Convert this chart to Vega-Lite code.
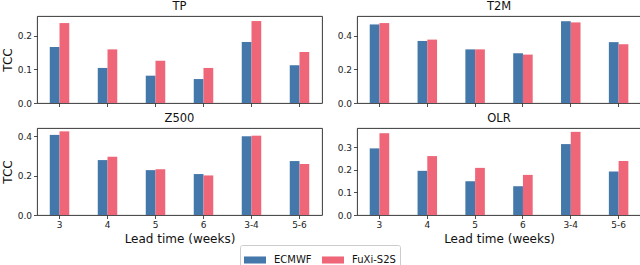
{
  "$schema": "https://vega.github.io/schema/vega-lite/v6.json",
  "padding": {"left": 0, "top": 0, "right": 0, "bottom": 0},
  "background": "white",
  "config": {
    "font": "DejaVu Sans",
    "view": {"stroke": "#222222", "strokeWidth": 0.9},
    "title": {"fontSize": 11.5, "fontWeight": "normal", "color": "#111111", "offset": 4, "font": "DejaVu Sans"},
    "axis": {
      "grid": false, "domain": false,
      "tickColor": "#222222", "tickSize": 3.5, "tickWidth": 0.8,
      "labelFont": "DejaVu Sans", "labelFontSize": 9, "labelColor": "#222222", "labelPadding": 2,
      "titleFont": "DejaVu Sans", "titleFontSize": 12, "titleFontWeight": "normal", "titleColor": "#111111"
    },
    "legend": {
      "orient": "none", "legendX": 203, "legendY": 229, "direction": "horizontal",
      "title": null, "strokeColor": "#cccccc", "fillColor": "white", "cornerRadius": 2,
      "padding": 4, "columnPadding": 10, "labelFont": "DejaVu Sans", "labelFontSize": 10, "labelColor": "#111111",
      "symbolType": "M-1,-0.32H1V0.32H-1Z", "symbolSize": 484, "symbolStrokeWidth": 0, "labelOffset": 8
    }
  },
  "data": {"values": [
    {"var": "TP", "lead": "3", "model": "ECMWF", "tcc": 0.166},
    {"var": "TP", "lead": "3", "model": "FuXi-S2S", "tcc": 0.237},
    {"var": "TP", "lead": "4", "model": "ECMWF", "tcc": 0.104},
    {"var": "TP", "lead": "4", "model": "FuXi-S2S", "tcc": 0.159},
    {"var": "TP", "lead": "5", "model": "ECMWF", "tcc": 0.081},
    {"var": "TP", "lead": "5", "model": "FuXi-S2S", "tcc": 0.125},
    {"var": "TP", "lead": "6", "model": "ECMWF", "tcc": 0.071},
    {"var": "TP", "lead": "6", "model": "FuXi-S2S", "tcc": 0.104},
    {"var": "TP", "lead": "3-4", "model": "ECMWF", "tcc": 0.181},
    {"var": "TP", "lead": "3-4", "model": "FuXi-S2S", "tcc": 0.243},
    {"var": "TP", "lead": "5-6", "model": "ECMWF", "tcc": 0.112},
    {"var": "TP", "lead": "5-6", "model": "FuXi-S2S", "tcc": 0.151},
    {"var": "T2M", "lead": "3", "model": "ECMWF", "tcc": 0.466},
    {"var": "T2M", "lead": "3", "model": "FuXi-S2S", "tcc": 0.474},
    {"var": "T2M", "lead": "4", "model": "ECMWF", "tcc": 0.368},
    {"var": "T2M", "lead": "4", "model": "FuXi-S2S", "tcc": 0.376},
    {"var": "T2M", "lead": "5", "model": "ECMWF", "tcc": 0.318},
    {"var": "T2M", "lead": "5", "model": "FuXi-S2S", "tcc": 0.318},
    {"var": "T2M", "lead": "6", "model": "ECMWF", "tcc": 0.295},
    {"var": "T2M", "lead": "6", "model": "FuXi-S2S", "tcc": 0.287},
    {"var": "T2M", "lead": "3-4", "model": "ECMWF", "tcc": 0.485},
    {"var": "T2M", "lead": "3-4", "model": "FuXi-S2S", "tcc": 0.478},
    {"var": "T2M", "lead": "5-6", "model": "ECMWF", "tcc": 0.361},
    {"var": "T2M", "lead": "5-6", "model": "FuXi-S2S", "tcc": 0.349},
    {"var": "Z500", "lead": "3", "model": "ECMWF", "tcc": 0.407},
    {"var": "Z500", "lead": "3", "model": "FuXi-S2S", "tcc": 0.425},
    {"var": "Z500", "lead": "4", "model": "ECMWF", "tcc": 0.279},
    {"var": "Z500", "lead": "4", "model": "FuXi-S2S", "tcc": 0.296},
    {"var": "Z500", "lead": "5", "model": "ECMWF", "tcc": 0.228},
    {"var": "Z500", "lead": "5", "model": "FuXi-S2S", "tcc": 0.233},
    {"var": "Z500", "lead": "6", "model": "ECMWF", "tcc": 0.208},
    {"var": "Z500", "lead": "6", "model": "FuXi-S2S", "tcc": 0.201},
    {"var": "Z500", "lead": "3-4", "model": "ECMWF", "tcc": 0.400},
    {"var": "Z500", "lead": "3-4", "model": "FuXi-S2S", "tcc": 0.403},
    {"var": "Z500", "lead": "5-6", "model": "ECMWF", "tcc": 0.274},
    {"var": "Z500", "lead": "5-6", "model": "FuXi-S2S", "tcc": 0.259},
    {"var": "OLR", "lead": "3", "model": "ECMWF", "tcc": 0.294},
    {"var": "OLR", "lead": "3", "model": "FuXi-S2S", "tcc": 0.361},
    {"var": "OLR", "lead": "4", "model": "ECMWF", "tcc": 0.195},
    {"var": "OLR", "lead": "4", "model": "FuXi-S2S", "tcc": 0.260},
    {"var": "OLR", "lead": "5", "model": "ECMWF", "tcc": 0.149},
    {"var": "OLR", "lead": "5", "model": "FuXi-S2S", "tcc": 0.208},
    {"var": "OLR", "lead": "6", "model": "ECMWF", "tcc": 0.127},
    {"var": "OLR", "lead": "6", "model": "FuXi-S2S", "tcc": 0.177},
    {"var": "OLR", "lead": "3-4", "model": "ECMWF", "tcc": 0.313},
    {"var": "OLR", "lead": "3-4", "model": "FuXi-S2S", "tcc": 0.367},
    {"var": "OLR", "lead": "5-6", "model": "ECMWF", "tcc": 0.192},
    {"var": "OLR", "lead": "5-6", "model": "FuXi-S2S", "tcc": 0.238}
  ]},
  "resolve": {"scale": {"y": "independent", "x": "independent"}},
  "spacing": 3,
  "vconcat": [
    {"spacing": 13, "hconcat": [
      {
        "title": {"text": "TP", "fontWeight": "normal"}, "width": 285, "height": 87,
        "transform": [{"filter": "datum.var == 'TP'"}],
        "mark": {"type": "bar"},
        "encoding": {
          "x": {"field": "lead", "type": "nominal", "sort": ["3", "4", "5", "6", "3-4", "5-6"],
                "scale": {"paddingInner": 0.594, "paddingOuter": 0.266},
                "axis": {"labels": false, "title": null}},
          "xOffset": {"field": "model", "type": "nominal", "scale": {"paddingInner": 0, "paddingOuter": 0}},
          "y": {"field": "tcc", "type": "quantitative", "scale": {"domain": [0, 0.258], "nice": false},
                "axis": {"values": [0, 0.1, 0.2], "format": ".1f", "title": "TCC", "titlePadding": 3}},
          "color": {"field": "model", "type": "nominal", "scale": {"domain": ["ECMWF", "FuXi-S2S"], "range": ["#4477AA", "#EE6677"]}}
        }
      },
      {
        "title": {"text": "T2M", "fontWeight": "normal"}, "width": 284, "height": 87,
        "transform": [{"filter": "datum.var == 'T2M'"}],
        "mark": {"type": "bar"},
        "encoding": {
          "x": {"field": "lead", "type": "nominal", "sort": ["3", "4", "5", "6", "3-4", "5-6"],
                "scale": {"paddingInner": 0.594, "paddingOuter": 0.266},
                "axis": {"labels": false, "title": null}},
          "xOffset": {"field": "model", "type": "nominal", "scale": {"paddingInner": 0, "paddingOuter": 0}},
          "y": {"field": "tcc", "type": "quantitative", "scale": {"domain": [0, 0.516], "nice": false},
                "axis": {"values": [0, 0.2, 0.4], "format": ".1f", "title": null}},
          "color": {"field": "model", "type": "nominal"}
        }
      }
    ]},
    {"spacing": 13, "hconcat": [
      {
        "title": {"text": "Z500", "fontWeight": "normal"}, "width": 285, "height": 87,
        "transform": [{"filter": "datum.var == 'Z500'"}],
        "mark": {"type": "bar"},
        "encoding": {
          "x": {"field": "lead", "type": "nominal", "sort": ["3", "4", "5", "6", "3-4", "5-6"],
                "scale": {"paddingInner": 0.594, "paddingOuter": 0.266},
                "axis": {"labelAngle": 0, "title": "Lead time (weeks)", "titlePadding": 4}},
          "xOffset": {"field": "model", "type": "nominal", "scale": {"paddingInner": 0, "paddingOuter": 0}},
          "y": {"field": "tcc", "type": "quantitative", "scale": {"domain": [0, 0.442], "nice": false},
                "axis": {"values": [0, 0.2, 0.4], "format": ".1f", "title": "TCC", "titlePadding": 3}},
          "color": {"field": "model", "type": "nominal"}
        }
      },
      {
        "title": {"text": "OLR", "fontWeight": "normal"}, "width": 284, "height": 87,
        "transform": [{"filter": "datum.var == 'OLR'"}],
        "mark": {"type": "bar"},
        "encoding": {
          "x": {"field": "lead", "type": "nominal", "sort": ["3", "4", "5", "6", "3-4", "5-6"],
                "scale": {"paddingInner": 0.594, "paddingOuter": 0.266},
                "axis": {"labelAngle": 0, "title": "Lead time (weeks)", "titlePadding": 4}},
          "xOffset": {"field": "model", "type": "nominal", "scale": {"paddingInner": 0, "paddingOuter": 0}},
          "y": {"field": "tcc", "type": "quantitative", "scale": {"domain": [0, 0.384], "nice": false},
                "axis": {"values": [0, 0.1, 0.2, 0.3], "format": ".1f", "title": null}},
          "color": {"field": "model", "type": "nominal"}
        }
      }
    ]}
  ]
}
